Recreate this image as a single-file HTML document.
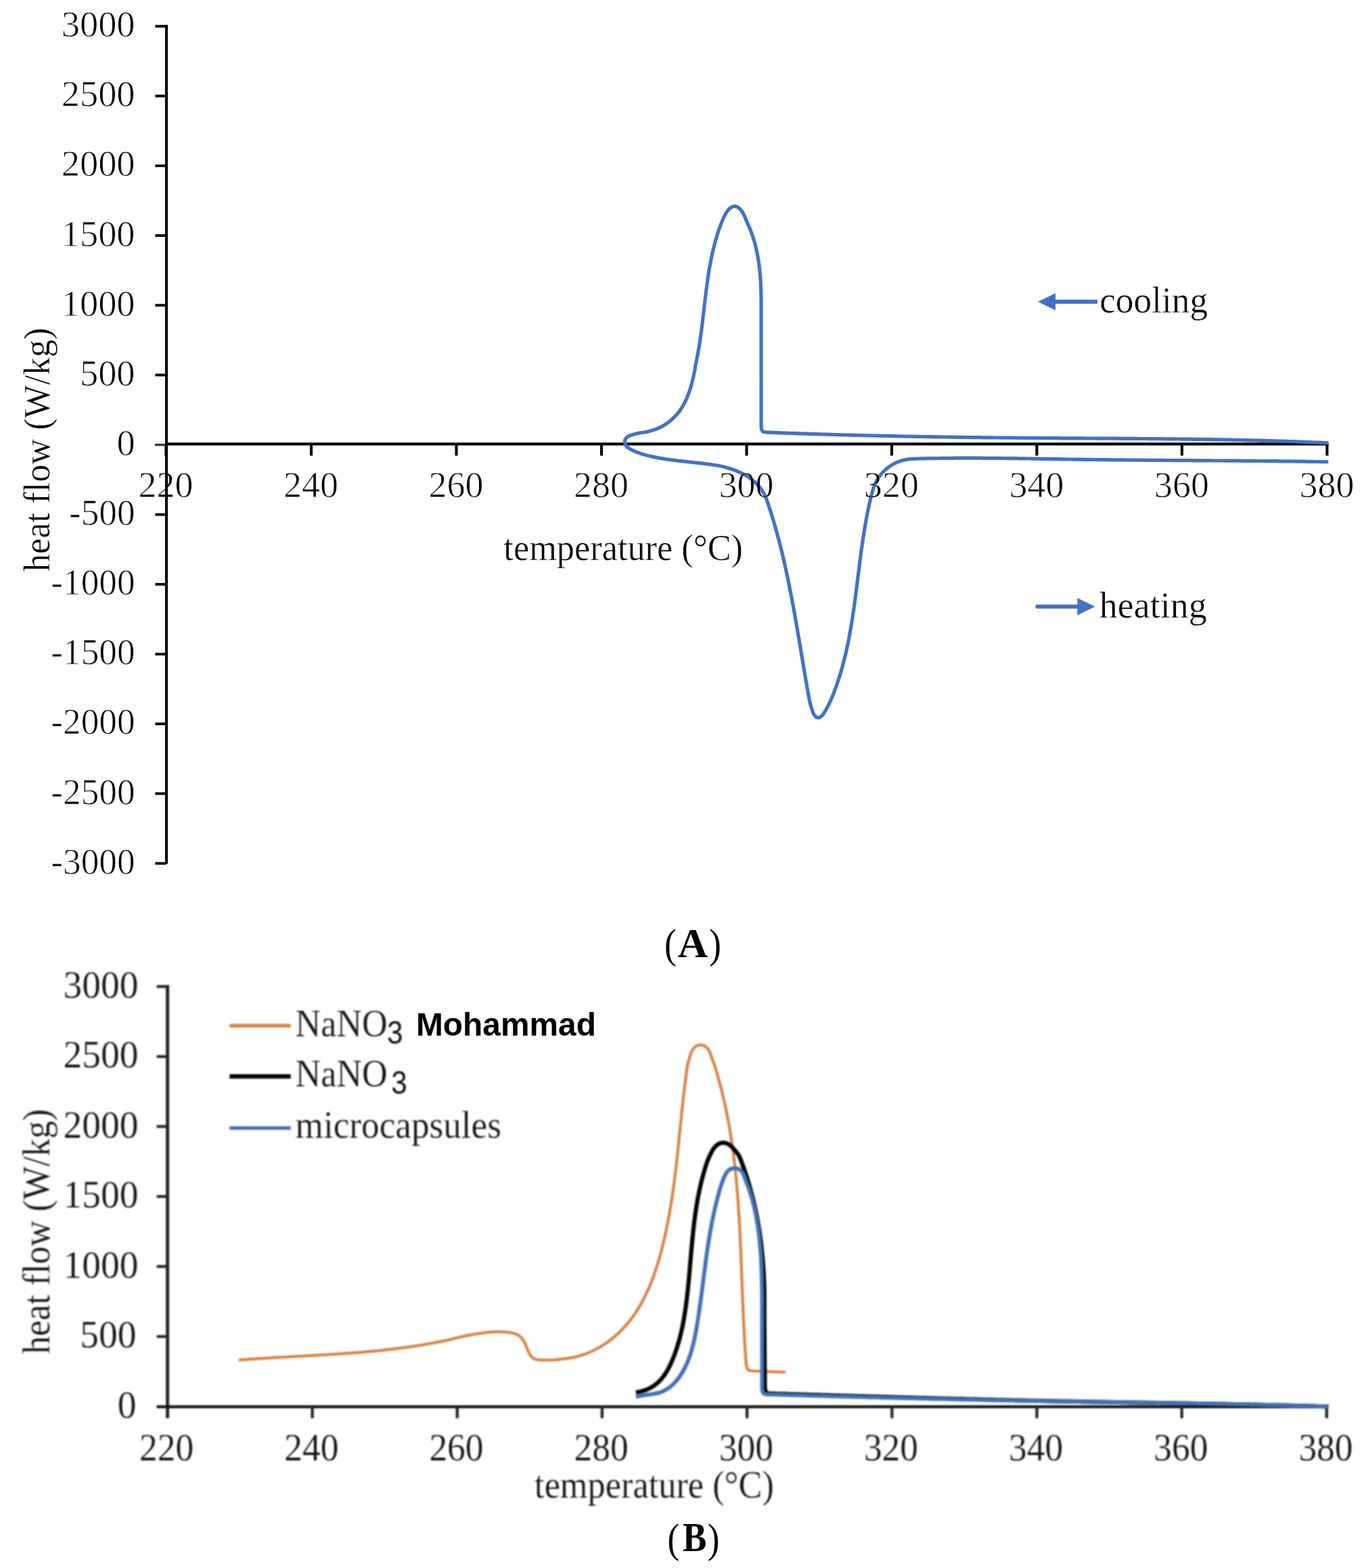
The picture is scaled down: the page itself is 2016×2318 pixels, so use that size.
<!DOCTYPE html>
<html lang="en"><head><meta charset="utf-8"><title>DSC heat flow curves</title>
<style>
html,body{margin:0;padding:0;background:#fff;}
body{width:2016px;height:2318px;overflow:hidden;}
svg{display:block;}
text{font-family:"Liberation Serif","DejaVu Serif",serif;fill:#000;}
.t{font-size:55.5px;stroke:#fff;stroke-width:0.9px;mix-blend-mode:darken;}
.tl{stroke-width:0.5px;}
.u{font-size:56.0px;fill:#161616;stroke:#fff;stroke-width:0.25px;mix-blend-mode:darken;}
.cap{font-size:61.0px;}
.cap .b{font-weight:bold;font-size:61.6px;}
.sans{font-family:"Liberation Sans","DejaVu Sans",sans-serif;}
</style></head><body>
<svg width="2016" height="2318" viewBox="0 0 2016 2318">
<rect width="2016" height="2318" fill="#fff"/>
<g id="chartA" style="filter:blur(0.45px)">
<rect x="0" y="0" width="2016" height="1340" fill="#fff"/>
<g stroke="#000" stroke-width="4.1" fill="none">
<line x1="246.0" y1="36.8" x2="246.0" y2="1277.0"/>
<line x1="246.0" y1="656.4" x2="1963.5" y2="656.4"/>
<line x1="229.4" y1="38.8" x2="246.0" y2="38.8" stroke-width="3.9"/>
<line x1="229.4" y1="141.9" x2="246.0" y2="141.9" stroke-width="3.9"/>
<line x1="229.4" y1="245.1" x2="246.0" y2="245.1" stroke-width="3.9"/>
<line x1="229.4" y1="348.2" x2="246.0" y2="348.2" stroke-width="3.9"/>
<line x1="229.4" y1="451.3" x2="246.0" y2="451.3" stroke-width="3.9"/>
<line x1="229.4" y1="554.4" x2="246.0" y2="554.4" stroke-width="3.9"/>
<line x1="229.0" y1="657.6" x2="246.0" y2="657.6" stroke="#3a3a3a" stroke-width="3.4"/>
<line x1="229.4" y1="760.7" x2="246.0" y2="760.7" stroke-width="3.9"/>
<line x1="229.4" y1="863.8" x2="246.0" y2="863.8" stroke-width="3.9"/>
<line x1="229.4" y1="967.0" x2="246.0" y2="967.0" stroke-width="3.9"/>
<line x1="229.4" y1="1070.1" x2="246.0" y2="1070.1" stroke-width="3.9"/>
<line x1="229.4" y1="1173.2" x2="246.0" y2="1173.2" stroke-width="3.9"/>
<line x1="229.4" y1="1276.4" x2="246.0" y2="1276.4" stroke-width="3.9"/>
<line x1="245.5" y1="656.4" x2="245.5" y2="673.6"/>
<line x1="460.0" y1="656.4" x2="460.0" y2="673.6"/>
<line x1="674.5" y1="656.4" x2="674.5" y2="673.6"/>
<line x1="889.0" y1="656.4" x2="889.0" y2="673.6"/>
<line x1="1103.5" y1="656.4" x2="1103.5" y2="673.6"/>
<line x1="1318.0" y1="656.4" x2="1318.0" y2="673.6"/>
<line x1="1532.4" y1="656.4" x2="1532.4" y2="673.6"/>
<line x1="1746.9" y1="656.4" x2="1746.9" y2="673.6"/>
<line x1="1961.4" y1="656.4" x2="1961.4" y2="673.6"/>
</g>
<path d="M1963.3 682.8L1960.8 682.7L1958.3 682.7L1955.8 682.6L1953.3 682.6L1950.8 682.6L1948.3 682.5L1945.8 682.5L1943.3 682.5L1940.8 682.4L1938.3 682.4L1935.8 682.3L1933.3 682.3L1930.8 682.3L1928.3 682.2L1925.8 682.2L1923.3 682.2L1920.8 682.1L1918.3 682.1L1915.8 682.1L1913.3 682L1910.8 682L1908.3 682L1905.8 681.9L1903.3 681.9L1900.8 681.9L1898.3 681.9L1895.8 681.8L1893.3 681.8L1890.8 681.8L1888.3 681.7L1885.8 681.7L1883.3 681.7L1880.8 681.7L1878.3 681.6L1875.8 681.6L1873.3 681.6L1870.8 681.6L1868.3 681.5L1865.8 681.5L1863.3 681.5L1860.8 681.5L1858.3 681.5L1855.8 681.4L1853.3 681.4L1850.8 681.4L1848.3 681.4L1845.8 681.3L1843.3 681.3L1840.8 681.3L1838.3 681.3L1835.8 681.3L1833.3 681.2L1830.8 681.2L1828.3 681.2L1825.8 681.2L1823.3 681.2L1820.8 681.1L1818.3 681.1L1815.8 681.1L1813.3 681.1L1810.8 681.1L1808.3 681.1L1805.8 681L1803.3 681L1800.8 681L1798.3 681L1795.8 681L1793.3 681L1790.8 680.9L1788.3 680.9L1785.8 680.9L1783.3 680.9L1780.8 680.9L1778.3 680.9L1775.8 680.8L1773.3 680.8L1770.8 680.8L1768.3 680.8L1765.8 680.8L1763.3 680.8L1760.8 680.7L1758.3 680.7L1755.8 680.7L1753.3 680.7L1750.8 680.7L1748.3 680.7L1745.8 680.6L1743.3 680.6L1740.8 680.6L1738.3 680.6L1735.8 680.6L1733.3 680.6L1730.8 680.5L1728.3 680.5L1725.8 680.5L1723.3 680.5L1720.8 680.5L1718.3 680.4L1715.8 680.4L1713.3 680.4L1710.8 680.4L1708.3 680.4L1705.8 680.4L1703.3 680.3L1700.8 680.3L1698.3 680.3L1695.8 680.3L1693.3 680.3L1690.8 680.2L1688.3 680.2L1685.8 680.2L1683.3 680.2L1680.8 680.2L1678.3 680.1L1675.8 680.1L1673.3 680.1L1670.8 680.1L1668.3 680L1665.8 680L1663.3 680L1660.8 680L1658.3 679.9L1655.8 679.9L1653.3 679.9L1650.8 679.9L1648.3 679.8L1645.8 679.8L1643.3 679.8L1640.8 679.8L1638.3 679.7L1635.8 679.7L1633.3 679.7L1630.8 679.7L1628.3 679.6L1625.8 679.6L1623.3 679.6L1620.8 679.5L1618.3 679.5L1615.8 679.5L1613.3 679.4L1610.8 679.4L1608.3 679.4L1605.8 679.3L1603.3 679.3L1600.8 679.3L1598.3 679.2L1595.8 679.2L1593.3 679.2L1590.8 679.1L1588.3 679.1L1585.8 679L1583.3 679L1580.8 679L1578.3 678.9L1575.8 678.9L1573.3 678.8L1570.8 678.8L1568.3 678.8L1565.8 678.7L1563.3 678.7L1560.8 678.6L1558.3 678.6L1555.8 678.6L1553.3 678.5L1550.8 678.5L1548.3 678.4L1545.8 678.4L1543.3 678.4L1540.8 678.3L1538.3 678.3L1535.8 678.2L1533.3 678.2L1530.8 678.2L1528.3 678.1L1525.8 678.1L1523.3 678L1520.8 678L1518.3 678L1515.8 677.9L1513.3 677.9L1510.8 677.9L1508.3 677.8L1505.8 677.8L1503.3 677.7L1500.8 677.7L1498.3 677.7L1495.8 677.6L1493.3 677.6L1490.8 677.6L1488.3 677.6L1485.8 677.5L1483.3 677.5L1480.8 677.5L1478.3 677.4L1475.8 677.4L1473.3 677.4L1470.8 677.4L1468.3 677.4L1465.8 677.3L1463.3 677.3L1460.8 677.3L1458.3 677.3L1455.8 677.3L1453.3 677.3L1450.8 677.2L1448.3 677.2L1445.8 677.2L1443.3 677.2L1440.8 677.2L1438.3 677.2L1435.8 677.2L1433.3 677.2L1430.8 677.2L1428.3 677.2L1425.8 677.2L1423.3 677.2L1420.8 677.2L1418.3 677.2L1415.8 677.2L1413.3 677.2L1410.8 677.2L1408.3 677.3L1405.8 677.3L1403.3 677.3L1400.8 677.3L1398.3 677.3L1395.8 677.4L1393.3 677.4L1390.8 677.4L1388.3 677.5L1385.8 677.5L1383.3 677.5L1380.8 677.6L1378.3 677.6L1375.8 677.6L1373.3 677.7L1370.8 677.7L1368.3 677.8L1365.8 677.8L1363.3 677.9L1360.8 677.9L1358.3 678L1355.8 678.1L1353.3 678.2L1350.8 678.3L1348.3 678.4L1345.8 678.5L1343.3 678.8L1340.8 679.1L1338.4 679.5L1335.9 680.1L1333.5 680.7L1331.1 681.4L1328.8 682.2L1326.4 683.2L1324.2 684.2L1321.9 685.3L1319.7 686.5L1317.6 687.7L1315.5 689.1L1313.4 690.5L1311.4 692L1309.5 693.6L1307.7 695.3L1305.9 697L1304.1 698.8L1302.5 700.7L1300.9 702.7L1299.4 704.7L1298 706.7L1296.7 708.8L1295.5 711L1294.3 713.2L1293.3 715.5L1292.3 717.8L1291.4 720.1L1290.7 722.5L1289.9 724.9L1289.2 727.3L1288.6 729.7L1287.9 732.1L1287.3 734.5L1286.8 737L1286.2 739.4L1285.6 741.8L1285.1 744.3L1284.5 746.7L1284 749.2L1283.5 751.6L1283 754.1L1282.5 756.5L1282 759L1281.5 761.4L1281 763.9L1280.6 766.3L1280.1 768.8L1279.7 771.2L1279.2 773.7L1278.8 776.2L1278.4 778.6L1278 781.1L1277.6 783.6L1277.2 786L1276.8 788.5L1276.4 791L1276 793.4L1275.6 795.9L1275.3 798.4L1274.9 800.9L1274.5 803.3L1274.2 805.8L1273.8 808.3L1273.5 810.8L1273.1 813.2L1272.8 815.7L1272.5 818.2L1272.1 820.7L1271.8 823.2L1271.5 825.6L1271.2 828.1L1270.8 830.6L1270.5 833.1L1270.2 835.6L1269.9 838L1269.6 840.5L1269.3 843L1269 845.5L1268.7 848L1268.4 850.4L1268 852.9L1267.7 855.4L1267.4 857.9L1267.1 860.4L1266.8 862.8L1266.5 865.3L1266.2 867.8L1265.9 870.3L1265.6 872.8L1265.2 875.2L1264.9 877.7L1264.6 880.2L1264.3 882.7L1263.9 885.2L1263.6 887.6L1263.3 890.1L1262.9 892.6L1262.6 895.1L1262.3 897.6L1261.9 900L1261.5 902.5L1261.2 905L1260.8 907.5L1260.4 909.9L1260.1 912.4L1259.7 914.9L1259.3 917.3L1258.9 919.8L1258.5 922.3L1258.1 924.7L1257.7 927.2L1257.3 929.7L1256.8 932.1L1256.4 934.6L1255.9 937.1L1255.5 939.5L1255 942L1254.6 944.4L1254.1 946.9L1253.6 949.3L1253.1 951.8L1252.6 954.2L1252 956.7L1251.5 959.1L1251 961.6L1250.4 964L1249.9 966.4L1249.3 968.9L1248.7 971.3L1248.1 973.7L1247.5 976.1L1246.9 978.6L1246.2 981L1245.6 983.4L1244.9 985.8L1244.3 988.2L1243.6 990.6L1242.9 993L1242.2 995.4L1241.4 997.8L1240.7 1000.2L1239.9 1002.6L1239.2 1005L1238.4 1007.3L1237.6 1009.7L1236.8 1012.1L1235.9 1014.4L1235.1 1016.8L1234.2 1019.1L1233.4 1021.5L1232.5 1023.8L1231.6 1026.1L1230.6 1028.5L1229.7 1030.8L1228.7 1033.1L1227.8 1035.4L1226.7 1037.7L1225.7 1039.9L1224.6 1042.2L1223.5 1044.4L1222.3 1046.6L1221.1 1048.8L1219.8 1051L1218.5 1053.1L1217.2 1055.2L1215.6 1057.2L1213.9 1058.9L1212 1060.3L1209.8 1060.9L1207.7 1060.7L1205.7 1059.6L1204.1 1057.9L1202.8 1055.9L1201.7 1053.6L1200.9 1051.3L1200.1 1048.9L1199.4 1046.5L1198.6 1044.1L1197.9 1041.7L1197.2 1039.3L1196.7 1036.9L1196.2 1034.5L1195.8 1032L1195.3 1029.5L1194.9 1027.1L1194.4 1024.6L1194 1022.2L1193.6 1019.7L1193.1 1017.2L1192.7 1014.8L1192.3 1012.3L1191.8 1009.8L1191.4 1007.4L1191 1004.9L1190.6 1002.5L1190.1 1000L1189.7 997.5L1189.3 995.1L1188.9 992.6L1188.5 990.1L1188 987.7L1187.6 985.2L1187.2 982.7L1186.8 980.3L1186.4 977.8L1186 975.3L1185.6 972.9L1185.1 970.4L1184.7 967.9L1184.3 965.5L1183.9 963L1183.5 960.5L1183.1 958.1L1182.7 955.6L1182.2 953.1L1181.8 950.7L1181.4 948.2L1181 945.7L1180.6 943.3L1180.2 940.8L1179.7 938.3L1179.3 935.9L1178.9 933.4L1178.5 931L1178.1 928.5L1177.6 926L1177.2 923.6L1176.8 921.1L1176.3 918.6L1175.9 916.2L1175.5 913.7L1175 911.2L1174.6 908.8L1174.2 906.3L1173.7 903.9L1173.3 901.4L1172.8 898.9L1172.4 896.5L1171.9 894L1171.5 891.6L1171 889.1L1170.6 886.7L1170.1 884.2L1169.6 881.7L1169.2 879.3L1168.7 876.8L1168.2 874.4L1167.7 871.9L1167.2 869.5L1166.8 867L1166.3 864.6L1165.8 862.1L1165.3 859.7L1164.8 857.2L1164.3 854.8L1163.7 852.3L1163.2 849.9L1162.7 847.4L1162.2 845L1161.7 842.5L1161.1 840.1L1160.6 837.7L1160 835.2L1159.5 832.8L1158.9 830.3L1158.4 827.9L1157.8 825.5L1157.2 823L1156.7 820.6L1156.1 818.2L1155.5 815.7L1154.9 813.3L1154.3 810.9L1153.7 808.4L1153.1 806L1152.5 803.6L1151.9 801.2L1151.2 798.8L1150.6 796.3L1149.9 793.9L1149.3 791.5L1148.6 789.1L1148 786.7L1147.3 784.3L1146.6 781.9L1146 779.5L1145.3 777.1L1144.6 774.7L1143.9 772.3L1143.2 769.9L1142.4 767.5L1141.7 765.1L1141 762.7L1140.3 760.3L1139.5 757.9L1138.8 755.5L1138 753.1L1137.2 750.8L1136.4 748.4L1135.7 746L1134.9 743.6L1134 741.3L1133.2 738.9L1132.3 736.6L1131.4 734.3L1130.3 732L1129.2 729.8L1127.9 727.6L1126.6 725.5L1125.2 723.4L1123.7 721.4L1122.2 719.5L1120.6 717.6L1118.8 715.8L1117.1 714L1115.2 712.3L1113.4 710.7L1111.4 709.1L1109.4 707.6L1107.4 706.1L1105.3 704.7L1103.2 703.4L1101 702.1L1098.9 700.9L1096.6 699.8L1094.4 698.7L1092.1 697.6L1089.8 696.6L1087.5 695.7L1085.2 694.8L1082.8 694L1080.5 693.2L1078.1 692.4L1075.7 691.7L1073.3 691L1070.8 690.4L1068.4 689.8L1066 689.3L1063.5 688.8L1061.1 688.3L1058.6 687.9L1056.1 687.5L1053.7 687.1L1051.2 686.8L1048.7 686.4L1046.2 686.1L1043.8 685.8L1041.3 685.5L1038.8 685.2L1036.3 684.9L1033.8 684.6L1031.3 684.3L1028.9 684L1026.4 683.8L1023.9 683.5L1021.4 683.2L1018.9 683L1016.4 682.7L1013.9 682.4L1011.5 682.2L1009 681.9L1006.5 681.6L1004 681.3L1001.5 681L999 680.7L996.6 680.4L994.1 680.1L991.6 679.8L989.1 679.4L986.6 679.1L984.2 678.7L981.7 678.3L979.2 677.9L976.8 677.5L974.3 677.1L971.8 676.6L969.4 676.1L966.9 675.6L964.5 675.1L962.1 674.6L959.6 674L957.2 673.4L954.8 672.8L952.4 672.2L950 671.5L947.6 670.7L945.2 669.9L942.9 669L940.5 668.1L938.2 667.2L935.9 666.1L933.7 665.1L931.5 663.9L929.4 662.6L927.4 661.1L925.7 659.3L924.3 657.4L923.5 655.1L923.4 652.8L923.8 650.5L924.9 648.3L926.5 646.6L928.4 645.1L930.6 644L933 643.2L935.4 642.5L937.8 641.8L940.2 641.2L942.6 640.6L945 640.1L947.5 639.7L950 639.3L952.4 639L954.9 638.5L957.3 638.1L959.8 637.5L962.2 636.8L964.6 636.1L967 635.3L969.3 634.5L971.6 633.5L973.9 632.5L976.2 631.4L978.4 630.3L980.6 629.1L982.7 627.8L984.8 626.4L986.8 625L988.8 623.5L990.8 621.9L992.7 620.3L994.6 618.6L996.3 616.9L998.1 615.1L999.8 613.3L1001.4 611.4L1003 609.4L1004.5 607.4L1005.9 605.4L1007.3 603.3L1008.6 601.2L1009.9 599L1011.1 596.8L1012.2 594.6L1013.3 592.4L1014.4 590.1L1015.4 587.8L1016.3 585.5L1017.2 583.2L1018.1 580.8L1018.9 578.5L1019.7 576.1L1020.5 573.7L1021.2 571.3L1021.9 568.9L1022.5 566.5L1023.1 564.1L1023.7 561.7L1024.3 559.2L1024.9 556.8L1025.4 554.3L1025.9 551.9L1026.4 549.4L1026.8 547L1027.3 544.5L1027.7 542L1028.1 539.6L1028.6 537.1L1029.1 534.7L1029.6 532.2L1030 529.8L1030.5 527.3L1031 524.9L1031.5 522.4L1031.9 519.9L1032.3 517.5L1032.8 515L1033.2 512.6L1033.6 510.1L1034 507.6L1034.4 505.1L1034.7 502.7L1035.1 500.2L1035.4 497.7L1035.8 495.2L1036.1 492.8L1036.5 490.3L1036.8 487.8L1037.1 485.3L1037.4 482.9L1037.7 480.4L1038 477.9L1038.4 475.4L1038.6 472.9L1038.9 470.4L1039.2 468L1039.5 465.5L1039.8 463L1040.1 460.5L1040.4 458L1040.7 455.5L1041 453.1L1041.2 450.6L1041.5 448.1L1041.8 445.6L1042.1 443.1L1042.4 440.6L1042.7 438.2L1043 435.7L1043.3 433.2L1043.6 430.7L1043.9 428.2L1044.2 425.8L1044.6 423.3L1044.9 420.8L1045.2 418.3L1045.6 415.8L1045.9 413.4L1046.3 410.9L1046.7 408.4L1047 405.9L1047.4 403.5L1047.8 401L1048.2 398.5L1048.6 396.1L1049.1 393.6L1049.5 391.2L1050 388.7L1050.4 386.2L1050.9 383.8L1051.4 381.3L1051.9 378.9L1052.4 376.4L1053 374L1053.5 371.6L1054.1 369.1L1054.7 366.7L1055.3 364.3L1055.9 361.8L1056.5 359.4L1057.2 357L1057.9 354.6L1058.6 352.2L1059.3 349.8L1060 347.4L1060.8 345L1061.5 342.7L1062.3 340.3L1063.2 337.9L1064 335.6L1064.9 333.2L1065.8 330.9L1066.7 328.6L1067.6 326.3L1068.6 324L1069.6 321.7L1070.6 319.4L1071.8 317.2L1073 315L1074.4 312.9L1075.9 311L1077.6 309.1L1079.4 307.5L1081.4 306.1L1083.6 305.2L1086 304.9L1088.3 305.3L1090.4 306.3L1092.4 307.7L1094.2 309.5L1095.8 311.3L1097.2 313.4L1098.5 315.5L1099.7 317.7L1100.7 320L1101.6 322.3L1102.6 324.6L1103.5 327L1104.5 329.3L1105.5 331.6L1106.5 333.8L1107.5 336.1L1108.5 338.4L1109.4 340.8L1110.3 343.1L1111.1 345.4L1112 347.8L1112.8 350.2L1113.5 352.5L1114.3 354.9L1115 357.3L1115.6 359.7L1116.3 362.2L1116.9 364.6L1117.5 367L1118 369.5L1118.6 371.9L1119.1 374.3L1119.5 376.8L1120 379.3L1120.4 381.7L1120.8 384.2L1121.2 386.7L1121.6 389.1L1121.9 391.6L1122.2 394.1L1122.5 396.6L1122.8 399.1L1123 401.6L1123.3 404L1123.5 406.5L1123.7 409L1123.9 411.5L1124 414L1124.2 416.5L1124.3 419L1124.4 421.5L1124.5 424L1124.6 426.5L1124.7 429L1124.8 431.5L1124.8 434L1124.9 436.5L1124.9 439L1125 441.5L1125 444L1125 446.5L1125 449L1125 451.5L1125 454L1125 456.5L1125 459L1125 460L1125.1 630.5L1125.5 634.5L1126.9 637.3L1129.7 638.7L1134 639.2L1136.5 639.2L1139 639.3L1141.5 639.4L1144 639.5L1146.5 639.6L1149 639.7L1151.5 639.8L1154 639.9L1156.5 640L1159 640.1L1161.5 640.2L1164 640.3L1166.5 640.4L1169 640.5L1171.5 640.5L1174 640.6L1176.5 640.7L1179 640.8L1181.5 640.9L1184 641L1186.5 641.1L1189 641.1L1191.5 641.2L1194 641.3L1196.5 641.4L1199 641.5L1201.5 641.6L1204 641.6L1206.5 641.7L1209 641.8L1211.5 641.9L1214 641.9L1216.5 642L1219 642.1L1221.5 642.2L1224 642.2L1226.5 642.3L1229 642.4L1231.5 642.5L1234 642.5L1236.5 642.6L1239 642.7L1241.5 642.8L1244 642.8L1246.5 642.9L1249 643L1251.5 643L1254 643.1L1256.5 643.2L1259 643.2L1261.5 643.3L1264 643.4L1266.5 643.4L1269 643.5L1271.5 643.6L1274 643.6L1276.5 643.7L1279 643.7L1281.5 643.8L1284 643.9L1286.5 643.9L1289 644L1291.5 644L1294 644.1L1296.5 644.2L1299 644.2L1301.5 644.3L1304 644.3L1306.5 644.4L1309 644.4L1311.5 644.5L1314 644.5L1316.5 644.6L1319 644.6L1321.5 644.7L1324 644.8L1326.5 644.8L1329 644.9L1331.5 644.9L1334 645L1336.5 645L1339 645.1L1341.5 645.1L1344 645.1L1346.5 645.2L1349 645.2L1351.5 645.3L1354 645.3L1356.5 645.4L1359 645.4L1361.5 645.5L1364 645.5L1366.5 645.6L1369 645.6L1371.6 645.6L1374.1 645.7L1376.6 645.7L1379.1 645.8L1381.6 645.8L1384.1 645.8L1386.6 645.9L1389.1 645.9L1391.6 646L1394.1 646L1396.6 646L1399.1 646.1L1401.6 646.1L1404.1 646.1L1406.6 646.2L1409.1 646.2L1411.6 646.3L1414.1 646.3L1416.6 646.3L1419.1 646.4L1421.6 646.4L1424.1 646.4L1426.6 646.5L1429.1 646.5L1431.6 646.5L1434.1 646.6L1436.6 646.6L1439.1 646.6L1441.6 646.6L1444.1 646.7L1446.6 646.7L1449.1 646.7L1451.6 646.8L1454.1 646.8L1456.6 646.8L1459.1 646.9L1461.6 646.9L1464.1 646.9L1466.6 646.9L1469.1 647L1471.6 647L1474.1 647L1476.6 647L1479.1 647.1L1481.6 647.1L1484.1 647.1L1486.6 647.1L1489.1 647.2L1491.6 647.2L1494.1 647.2L1496.6 647.2L1499.1 647.2L1501.6 647.3L1504.1 647.3L1506.6 647.3L1509.1 647.3L1511.6 647.4L1514.1 647.4L1516.6 647.4L1519.1 647.4L1521.6 647.4L1524.1 647.5L1526.6 647.5L1529.1 647.5L1531.6 647.5L1534.1 647.5L1536.6 647.5L1539.1 647.6L1541.6 647.6L1544.1 647.6L1546.6 647.6L1549.1 647.6L1551.6 647.6L1554.1 647.7L1556.6 647.7L1559.2 647.7L1561.7 647.7L1564.2 647.7L1566.7 647.7L1569.2 647.8L1571.7 647.8L1574.2 647.8L1576.7 647.8L1579.2 647.8L1581.7 647.8L1584.2 647.8L1586.7 647.9L1589.2 647.9L1591.7 647.9L1594.2 647.9L1596.7 647.9L1599.2 647.9L1601.7 647.9L1604.2 648L1606.7 648L1609.2 648L1611.7 648L1614.2 648L1616.7 648L1619.2 648L1621.7 648.1L1624.2 648.1L1626.7 648.1L1629.2 648.1L1631.7 648.1L1634.2 648.1L1636.7 648.1L1639.2 648.2L1641.7 648.2L1644.2 648.2L1646.7 648.2L1649.2 648.2L1651.7 648.2L1654.2 648.3L1656.7 648.3L1659.2 648.3L1661.7 648.3L1664.2 648.3L1666.7 648.3L1669.2 648.4L1671.7 648.4L1674.2 648.4L1676.7 648.4L1679.2 648.4L1681.7 648.4L1684.2 648.5L1686.7 648.5L1689.2 648.5L1691.7 648.5L1694.2 648.5L1696.7 648.6L1699.2 648.6L1701.7 648.6L1704.2 648.6L1706.7 648.7L1709.2 648.7L1711.7 648.7L1714.2 648.7L1716.7 648.7L1719.2 648.8L1721.7 648.8L1724.2 648.8L1726.7 648.8L1729.2 648.9L1731.8 648.9L1734.3 648.9L1736.8 649L1739.3 649L1741.8 649L1744.3 649L1746.8 649.1L1749.3 649.1L1751.8 649.1L1754.3 649.2L1756.8 649.2L1759.3 649.2L1761.8 649.3L1764.3 649.3L1766.8 649.3L1769.3 649.4L1771.8 649.4L1774.3 649.4L1776.8 649.5L1779.3 649.5L1781.8 649.6L1784.3 649.6L1786.8 649.6L1789.3 649.7L1791.8 649.7L1794.3 649.8L1796.8 649.8L1799.3 649.8L1801.8 649.9L1804.3 649.9L1806.8 650L1809.3 650L1811.8 650.1L1814.3 650.1L1816.8 650.2L1819.3 650.2L1821.8 650.3L1824.3 650.3L1826.8 650.4L1829.3 650.4L1831.8 650.5L1834.3 650.5L1836.8 650.6L1839.3 650.6L1841.8 650.7L1844.3 650.8L1846.8 650.8L1849.3 650.9L1851.8 650.9L1854.3 651L1856.8 651.1L1859.3 651.1L1861.8 651.2L1864.3 651.3L1866.8 651.3L1869.3 651.4L1871.8 651.5L1874.3 651.5L1876.8 651.6L1879.3 651.7L1881.8 651.8L1884.3 651.8L1886.8 651.9L1889.3 652L1891.8 652.1L1894.3 652.1L1896.8 652.2L1899.3 652.3L1901.8 652.4L1904.3 652.5L1906.8 652.6L1909.3 652.6L1911.8 652.7L1914.3 652.8L1916.8 652.9L1919.3 653L1921.8 653.1L1924.3 653.2L1926.8 653.3L1929.3 653.4L1931.8 653.5L1934.3 653.6L1936.8 653.7L1939.3 653.8L1941.8 653.9L1944.3 654L1946.8 654.1L1949.3 654.2L1951.8 654.3L1954.3 654.4L1956.8 654.5L1959.3 654.6L1961.8 654.7L1963.3 654.8" fill="none" stroke="#4472c4" stroke-width="5.2" stroke-linejoin="round" stroke-linecap="butt"/>
<text id="ay0" class="t" x="199.6" y="54.1" text-anchor="end" textLength="108.89" lengthAdjust="spacingAndGlyphs">3000</text>
<text id="ay1" class="t" x="199.6" y="157.2" text-anchor="end" textLength="108.89" lengthAdjust="spacingAndGlyphs">2500</text>
<text id="ay2" class="t" x="199.6" y="260.4" text-anchor="end" textLength="108.89" lengthAdjust="spacingAndGlyphs">2000</text>
<text id="ay3" class="t" x="199.6" y="363.5" text-anchor="end" textLength="108.89" lengthAdjust="spacingAndGlyphs">1500</text>
<text id="ay4" class="t" x="199.6" y="466.6" text-anchor="end" textLength="108.89" lengthAdjust="spacingAndGlyphs">1000</text>
<text id="ay5" class="t" x="199.6" y="569.7" text-anchor="end" textLength="81.67" lengthAdjust="spacingAndGlyphs">500</text>
<text id="ay6" class="t" x="199.6" y="672.9" text-anchor="end" textLength="27.22" lengthAdjust="spacingAndGlyphs">0</text>
<text id="ay7" class="t" x="199.6" y="776.0" text-anchor="end" textLength="97.61" lengthAdjust="spacingAndGlyphs">-500</text>
<text id="ay8" class="t" x="199.6" y="879.1" text-anchor="end" textLength="124.23" lengthAdjust="spacingAndGlyphs">-1000</text>
<text id="ay9" class="t" x="199.6" y="982.3" text-anchor="end" textLength="124.23" lengthAdjust="spacingAndGlyphs">-1500</text>
<text id="ay10" class="t" x="199.6" y="1085.4" text-anchor="end" textLength="124.23" lengthAdjust="spacingAndGlyphs">-2000</text>
<text id="ay11" class="t" x="199.6" y="1188.5" text-anchor="end" textLength="124.23" lengthAdjust="spacingAndGlyphs">-2500</text>
<text id="ay12" class="t" x="199.6" y="1291.7" text-anchor="end" textLength="124.23" lengthAdjust="spacingAndGlyphs">-3000</text>
<text id="ax0" class="t" x="245.0" y="734.8" text-anchor="middle" textLength="80.92" lengthAdjust="spacingAndGlyphs">220</text>
<text id="ax1" class="t" x="459.5" y="734.8" text-anchor="middle" textLength="80.92" lengthAdjust="spacingAndGlyphs">240</text>
<text id="ax2" class="t" x="674.0" y="734.8" text-anchor="middle" textLength="80.92" lengthAdjust="spacingAndGlyphs">260</text>
<text id="ax3" class="t" x="888.5" y="734.8" text-anchor="middle" textLength="80.92" lengthAdjust="spacingAndGlyphs">280</text>
<text id="ax4" class="t" x="1103.0" y="734.8" text-anchor="middle" textLength="80.92" lengthAdjust="spacingAndGlyphs">300</text>
<text id="ax5" class="t" x="1317.5" y="734.8" text-anchor="middle" textLength="80.92" lengthAdjust="spacingAndGlyphs">320</text>
<text id="ax6" class="t" x="1531.9" y="734.8" text-anchor="middle" textLength="80.92" lengthAdjust="spacingAndGlyphs">340</text>
<text id="ax7" class="t" x="1746.4" y="734.8" text-anchor="middle" textLength="80.92" lengthAdjust="spacingAndGlyphs">360</text>
<text id="ax8" class="t" x="1960.9" y="734.8" text-anchor="middle" textLength="80.92" lengthAdjust="spacingAndGlyphs">380</text>
<text id="axt" class="t tl" x="921.2" y="828.1" text-anchor="middle" textLength="353.68" lengthAdjust="spacingAndGlyphs">temperature (°C)</text>
<text id="ayt" class="t tl" transform="translate(73.4 664.9) rotate(-90)" text-anchor="middle" textLength="360.40" lengthAdjust="spacingAndGlyphs">heat flow (W/kg)</text>
<g fill="#4472c4" stroke="none">
<path d="M1534 446.1L1560 433.4V443.1H1622V449.1H1560V458.8Z"/>
<path d="M1618.4 896.7L1592.4 884V893.7H1533.4A3 3 0 0 0 1533.4 899.7H1592.4V909.4Z"/>
</g>
<text id="cool" class="t tl" x="1625.2" y="461.8" textLength="159.99" lengthAdjust="spacingAndGlyphs">cooling</text>
<text id="heat" class="t tl" x="1624.7" y="912.5" textLength="158.95" lengthAdjust="spacingAndGlyphs">heating</text>
</g>
<g id="chartB" style="filter:blur(0.90px)">
<rect x="0" y="1425" width="2016" height="810" fill="#fff"/>
<g stroke="#262626" fill="none">
<line x1="247.6" y1="1456.2" x2="247.6" y2="2096.6" stroke-width="5"/>
<line x1="231.6" y1="2079.6" x2="1963.0" y2="2079.6" stroke-width="4.4" stroke="#111"/>
<line x1="231.6" y1="1458.4" x2="247.6" y2="1458.4" stroke-width="4.2"/>
<line x1="231.6" y1="1561.9" x2="247.6" y2="1561.9" stroke-width="4.2"/>
<line x1="231.6" y1="1665.3" x2="247.6" y2="1665.3" stroke-width="4.2"/>
<line x1="231.6" y1="1768.8" x2="247.6" y2="1768.8" stroke-width="4.2"/>
<line x1="231.6" y1="1872.3" x2="247.6" y2="1872.3" stroke-width="4.2"/>
<line x1="231.6" y1="1975.8" x2="247.6" y2="1975.8" stroke-width="4.2"/>
<line x1="461.6" y1="2079.6" x2="461.6" y2="2096.6" stroke-width="4.4"/>
<line x1="675.8" y1="2079.6" x2="675.8" y2="2096.6" stroke-width="4.4"/>
<line x1="889.9" y1="2079.6" x2="889.9" y2="2096.6" stroke-width="4.4"/>
<line x1="1104.1" y1="2079.6" x2="1104.1" y2="2096.6" stroke-width="4.4"/>
<line x1="1318.3" y1="2079.6" x2="1318.3" y2="2096.6" stroke-width="4.4"/>
<line x1="1532.5" y1="2079.6" x2="1532.5" y2="2096.6" stroke-width="4.4"/>
<line x1="1746.7" y1="2079.6" x2="1746.7" y2="2096.6" stroke-width="4.4"/>
<line x1="1960.8" y1="2079.6" x2="1960.8" y2="2096.6" stroke-width="4.4"/>
</g>
<path d="M352.8 2010.5L355.3 2010.3L357.8 2010.1L360.3 2009.9L362.8 2009.8L365.3 2009.6L367.8 2009.4L370.3 2009.2L372.8 2009.1L375.3 2008.9L377.7 2008.7L380.2 2008.6L382.7 2008.4L385.2 2008.2L387.7 2008.1L390.2 2007.9L392.7 2007.8L395.2 2007.6L397.7 2007.5L400.2 2007.3L402.7 2007.2L405.2 2007L407.7 2006.9L410.2 2006.7L412.7 2006.6L415.2 2006.4L417.7 2006.3L420.2 2006.2L422.7 2006L425.2 2005.9L427.7 2005.7L430.2 2005.6L432.7 2005.5L435.2 2005.3L437.7 2005.2L440.2 2005.1L442.6 2004.9L445.1 2004.8L447.6 2004.6L450.1 2004.5L452.6 2004.4L455.1 2004.2L457.6 2004.1L460.1 2003.9L462.6 2003.8L465.1 2003.7L467.6 2003.5L470.1 2003.4L472.6 2003.2L475.1 2003.1L477.6 2002.9L480.1 2002.8L482.6 2002.6L485.1 2002.5L487.6 2002.3L490.1 2002.2L492.6 2002L495.1 2001.8L497.6 2001.7L500.1 2001.5L502.6 2001.3L505.1 2001.2L507.5 2001L510 2000.8L512.5 2000.6L515 2000.5L517.5 2000.3L520 2000.1L522.5 1999.9L525 1999.7L527.5 1999.5L530 1999.3L532.5 1999.1L535 1998.9L537.5 1998.7L540 1998.5L542.4 1998.2L544.9 1998L547.4 1997.8L549.9 1997.6L552.4 1997.3L554.9 1997.1L557.4 1996.8L559.9 1996.6L562.4 1996.3L564.8 1996.1L567.3 1995.8L569.8 1995.5L572.3 1995.3L574.8 1995L577.3 1994.7L579.8 1994.4L582.2 1994.1L584.7 1993.8L587.2 1993.5L589.7 1993.2L592.2 1992.9L594.6 1992.5L597.1 1992.2L599.6 1991.9L602.1 1991.5L604.5 1991.2L607 1990.8L609.5 1990.4L612 1990.1L614.4 1989.7L616.9 1989.3L619.4 1988.9L621.9 1988.5L624.3 1988.1L626.8 1987.7L629.3 1987.3L631.7 1986.9L634.2 1986.4L636.6 1986L639.1 1985.5L641.6 1985.1L644 1984.6L646.5 1984.1L648.9 1983.7L651.4 1983.2L653.8 1982.7L656.3 1982.2L658.7 1981.6L661.2 1981.1L663.6 1980.6L666 1980L668.4 1979.3L670.9 1978.7L673.3 1978.1L675.7 1977.5L678.2 1977L680.6 1976.4L683 1975.9L685.5 1975.4L687.9 1974.9L690.4 1974.4L692.8 1973.9L695.3 1973.4L697.8 1973L700.2 1972.6L702.7 1972.1L705.2 1971.7L707.6 1971.4L710.1 1971L712.6 1970.7L715.1 1970.3L717.5 1970L720 1969.7L722.5 1969.5L725 1969.2L727.5 1969.1L730 1968.9L732.5 1968.8L735 1968.7L737.5 1968.7L740 1968.8L742.5 1968.9L745 1969L747.5 1969.2L750 1969.5L752.4 1969.8L754.9 1970.2L757.4 1970.6L759.8 1971.2L762.2 1972L764.5 1973L766.6 1974.3L768.6 1975.7L770.5 1977.4L772.1 1979.3L773.5 1981.4L774.8 1983.5L775.9 1985.8L776.9 1988.1L777.9 1990.4L778.9 1992.7L779.8 1995L780.7 1997.3L781.7 1999.6L782.8 2001.9L784.1 2004L785.7 2005.9L787.6 2007.5L789.7 2008.7L792.1 2009.6L794.5 2010.1L797 2010.4L799.5 2010.5L802 2010.6L804.5 2010.7L807 2010.7L809.5 2010.7L812 2010.6L814.5 2010.6L817 2010.4L819.5 2010.3L822 2010.1L824.5 2009.8L826.9 2009.5L829.4 2009.2L831.9 2008.8L834.4 2008.6L836.9 2008.3L839.3 2008L841.8 2007.6L844.3 2007.2L846.7 2006.7L849.2 2006.2L851.6 2005.6L854 2005L856.4 2004.3L858.8 2003.6L861.2 2002.9L863.6 2002L865.9 2001.2L868.3 2000.3L870.6 1999.4L872.9 1998.4L875.2 1997.3L877.4 1996.3L879.7 1995.2L881.9 1994L884.1 1992.8L886.3 1991.6L888.4 1990.3L890.5 1989L892.6 1987.7L894.7 1986.3L896.8 1984.9L898.8 1983.4L900.8 1981.9L902.8 1980.4L904.8 1978.8L906.7 1977.3L908.6 1975.6L910.5 1974L912.4 1972.3L914.2 1970.6L916 1968.9L917.8 1967.1L919.5 1965.3L921.2 1963.5L922.9 1961.7L924.6 1959.8L926.2 1957.9L927.9 1956L929.4 1954.1L931 1952.1L932.5 1950.2L934 1948.2L935.5 1946.1L937 1944.1L938.4 1942L939.8 1940L941.1 1937.9L942.5 1935.8L943.8 1933.6L945.1 1931.5L946.4 1929.3L947.6 1927.2L948.8 1925L950 1922.8L951.2 1920.6L952.3 1918.3L953.4 1916.1L954.5 1913.9L955.6 1911.6L956.6 1909.3L957.7 1907.1L958.7 1904.8L959.7 1902.5L960.6 1900.2L961.6 1897.9L962.5 1895.5L963.4 1893.2L964.3 1890.9L965.2 1888.5L966.1 1886.2L966.9 1883.8L967.7 1881.5L968.5 1879.1L969.3 1876.7L970.1 1874.3L970.9 1872L971.6 1869.6L972.3 1867.2L973.1 1864.8L973.8 1862.4L974.5 1860L975.1 1857.6L975.8 1855.2L976.5 1852.8L977.1 1850.3L977.7 1847.9L978.4 1845.5L979 1843.1L979.6 1840.7L980.2 1838.2L980.8 1835.8L981.3 1833.4L981.9 1830.9L982.5 1828.5L983 1826L983.6 1823.6L984.1 1821.2L984.6 1818.7L985.1 1816.3L985.6 1813.8L986.1 1811.4L986.6 1808.9L987.1 1806.5L987.6 1804L988 1801.6L988.5 1799.1L988.9 1796.6L989.4 1794.2L989.8 1791.7L990.2 1789.2L990.6 1786.8L991.1 1784.3L991.5 1781.8L991.9 1779.4L992.3 1776.9L992.6 1774.4L993 1772L993.4 1769.5L993.8 1767L994.1 1764.5L994.5 1762.1L994.8 1759.6L995.2 1757.1L995.5 1754.6L995.9 1752.2L996.2 1749.7L996.5 1747.2L996.8 1744.7L997.1 1742.2L997.5 1739.8L997.8 1737.3L998.1 1734.8L998.4 1732.3L998.7 1729.8L999 1727.4L999.3 1724.9L999.5 1722.4L999.8 1719.9L1000.1 1717.4L1000.4 1714.9L1000.7 1712.4L1000.9 1710L1001.2 1707.5L1001.5 1705L1001.7 1702.5L1002 1700L1002.2 1697.5L1002.5 1695L1002.8 1692.6L1003 1690.1L1003.3 1687.6L1003.5 1685.1L1003.8 1682.6L1004 1680.1L1004.3 1677.6L1004.5 1675.1L1004.8 1672.6L1005 1670.2L1005.3 1667.7L1005.5 1665.2L1005.8 1662.7L1006.1 1660.2L1006.3 1657.7L1006.6 1655.2L1006.8 1652.7L1007.1 1650.3L1007.3 1647.8L1007.6 1645.3L1007.8 1642.8L1008.1 1640.3L1008.4 1637.8L1008.6 1635.3L1008.9 1632.8L1009.2 1630.4L1009.4 1627.9L1009.7 1625.4L1010 1622.9L1010.3 1620.4L1010.5 1617.9L1010.8 1615.5L1011.1 1613L1011.4 1610.5L1011.7 1608L1012 1605.5L1012.3 1603L1012.6 1600.6L1012.9 1598.1L1013.2 1595.6L1013.5 1593.1L1013.9 1590.6L1014.2 1588.2L1014.5 1585.7L1014.9 1583.2L1015.2 1580.7L1015.6 1578.2L1015.9 1575.8L1016.3 1573.3L1017 1570.9L1017.8 1568.6L1018.4 1566.1L1019.1 1563.7L1019.7 1561.3L1020.5 1558.9L1021.3 1556.6L1022.3 1554.3L1023.5 1552.1L1025 1550.1L1026.7 1548.3L1028.7 1546.8L1030.9 1545.6L1033.3 1544.9L1035.7 1544.7L1038.2 1545L1040.5 1545.9L1042.7 1547.2L1044.6 1548.8L1046.3 1550.6L1047.6 1552.7L1048.8 1554.9L1049.8 1557.2L1050.6 1559.5L1051.4 1561.9L1052.2 1564.3L1053 1566.7L1053.9 1569L1054.9 1571.3L1055.7 1573.6L1056.5 1576L1057.2 1578.4L1057.9 1580.8L1058.7 1583.2L1059.4 1585.6L1060.1 1588L1060.8 1590.4L1061.5 1592.8L1062.1 1595.2L1062.8 1597.6L1063.5 1600L1064.1 1602.4L1064.7 1604.8L1065.4 1607.3L1066 1609.7L1066.6 1612.1L1067.2 1614.5L1067.8 1617L1068.4 1619.4L1069 1621.8L1069.5 1624.3L1070.1 1626.7L1070.6 1629.1L1071.2 1631.6L1071.7 1634L1072.2 1636.5L1072.8 1638.9L1073.3 1641.4L1073.8 1643.8L1074.3 1646.3L1074.8 1648.7L1075.2 1651.2L1075.7 1653.6L1076.2 1656.1L1076.6 1658.5L1077.1 1661L1077.5 1663.5L1077.9 1665.9L1078.4 1668.4L1078.8 1670.9L1079.2 1673.3L1079.6 1675.8L1080 1678.3L1080.4 1680.7L1080.8 1683.2L1081.1 1685.7L1081.5 1688.1L1081.9 1690.6L1082.2 1693.1L1082.6 1695.6L1082.9 1698.1L1083.2 1700.5L1083.6 1703L1083.9 1705.5L1084.2 1708L1084.5 1710.4L1084.8 1712.9L1085.1 1715.4L1085.4 1717.9L1085.7 1720.4L1086 1722.9L1086.3 1725.4L1086.5 1727.8L1086.8 1730.3L1087.1 1732.8L1087.3 1735.3L1087.6 1737.8L1087.8 1740.3L1088.1 1742.8L1088.3 1745.3L1088.5 1747.7L1088.7 1750.2L1089 1752.7L1089.2 1755.2L1089.4 1757.7L1089.6 1760.2L1089.8 1762.7L1090 1765.2L1090.2 1767.7L1090.4 1770.2L1090.6 1772.7L1090.8 1775.2L1090.9 1777.7L1091.1 1780.1L1091.3 1782.6L1091.5 1785.1L1091.6 1787.6L1091.8 1790.1L1091.9 1792.6L1092.1 1795.1L1092.3 1797.6L1092.4 1800.1L1092.5 1802.6L1092.7 1805.1L1092.8 1807.6L1093 1810.1L1093.1 1812.6L1093.2 1815.1L1093.4 1817.6L1093.5 1820.1L1093.6 1822.6L1093.7 1825.1L1093.9 1827.6L1094 1830.1L1094.1 1832.6L1094.2 1835.1L1094.3 1837.6L1094.4 1840.1L1094.5 1842.6L1094.7 1845.1L1094.8 1847.6L1094.9 1850.1L1095 1852.6L1095.1 1855.1L1095.2 1857.6L1095.3 1860.1L1095.4 1862.6L1095.5 1865L1095.6 1867.5L1095.7 1870L1095.8 1872.5L1095.9 1875L1096 1877.5L1096.1 1880L1096.1 1882.5L1096.2 1885L1096.3 1887.5L1096.4 1890L1096.5 1892.5L1096.6 1895L1096.7 1897.5L1096.8 1900L1096.9 1902.5L1097 1905L1097.1 1907.5L1097.2 1910L1097.3 1912.5L1097.4 1915L1097.5 1917.5L1097.6 1920L1097.7 1922.5L1097.8 1925L1097.9 1927.5L1098 1930L1098.1 1932.5L1098.2 1935L1098.3 1937.5L1098.4 1940L1098.5 1942.5L1098.6 1945L1098.7 1947.5L1098.8 1950L1099 1952.5L1099.1 1955L1099.2 1957.5L1099.3 1960L1099.5 1962.5L1099.6 1965L1099.7 1967.5L1099.8 1970L1100 1972.5L1100.1 1975L1100.3 1977.5L1100.4 1980L1100.6 1982.5L1100.7 1985L1100.9 1987.5L1101 1990L1101.2 1992.4L1101.3 1994.9L1101.5 1997.4L1101.7 1999.9L1101.8 2002.4L1102 2004.9L1102.2 2007.4L1102.4 2009.9L1102.6 2012.4L1102.8 2014.9L1102.8 2015.9L1103.8 2021L1104.8 2023.8L1106.6 2025.5L1109.5 2026.3L1115.8 2026.8L1138.1 2027.7L1161 2028.7" fill="none" stroke="#d98243" stroke-width="4.3" stroke-linejoin="round" stroke-linecap="butt"/>
<path d="M939.9 2058.3L942.4 2057.9L944.8 2057.5L947.3 2057L949.7 2056.3L952.1 2055.6L954.5 2054.8L956.8 2053.9L959 2052.8L961.3 2051.7L963.4 2050.4L965.6 2049.1L967.6 2047.7L969.6 2046.2L971.5 2044.6L973.3 2042.9L975.1 2041.1L976.8 2039.3L978.4 2037.4L980 2035.4L981.5 2033.4L982.9 2031.4L984.3 2029.3L985.6 2027.2L986.9 2025L988.1 2022.8L989.2 2020.6L990.3 2018.3L991.4 2016.1L992.4 2013.8L993.4 2011.5L994.4 2009.2L995.3 2006.9L996.2 2004.6L997.1 2002.2L997.9 1999.9L998.8 1997.5L999.6 1995.1L1000.3 1992.8L1001.1 1990.4L1001.8 1988L1002.6 1985.6L1003.3 1983.2L1003.9 1980.8L1004.6 1978.4L1005.2 1975.9L1005.8 1973.5L1006.4 1971.1L1007 1968.7L1007.5 1966.2L1008.1 1963.8L1008.6 1961.3L1009.1 1958.9L1009.5 1956.4L1010 1954L1010.5 1951.5L1010.9 1949L1011.3 1946.6L1011.7 1944.1L1012.1 1941.6L1012.5 1939.2L1012.9 1936.7L1013.2 1934.2L1013.6 1931.8L1013.9 1929.3L1014.2 1926.8L1014.6 1924.3L1014.9 1921.8L1015.2 1919.4L1015.5 1916.9L1015.7 1914.4L1016 1911.9L1016.3 1909.4L1016.6 1906.9L1016.8 1904.4L1017.1 1902L1017.3 1899.5L1017.6 1897L1017.8 1894.5L1018 1892L1018.3 1889.5L1018.5 1887L1018.7 1884.5L1018.9 1882L1019.2 1879.5L1019.4 1877.1L1019.6 1874.6L1019.8 1872.1L1020 1869.6L1020.2 1867.1L1020.4 1864.6L1020.7 1862.1L1020.9 1859.6L1021.1 1857.1L1021.3 1854.6L1021.5 1852.1L1021.7 1849.7L1022 1847.2L1022.2 1844.7L1022.4 1842.2L1022.6 1839.7L1022.9 1837.2L1023.1 1834.7L1023.3 1832.2L1023.6 1829.7L1023.8 1827.2L1024.1 1824.8L1024.3 1822.3L1024.6 1819.8L1024.9 1817.3L1025.2 1814.8L1025.4 1812.3L1025.7 1809.8L1026 1807.4L1026.3 1804.9L1026.6 1802.4L1027 1799.9L1027.3 1797.4L1027.6 1795L1028 1792.5L1028.4 1790L1028.7 1787.5L1029.1 1785.1L1029.5 1782.6L1029.9 1780.1L1030.3 1777.7L1030.7 1775.2L1031.2 1772.7L1031.6 1770.3L1032.1 1767.8L1032.6 1765.4L1033.1 1762.9L1033.6 1760.5L1034.1 1758L1034.6 1755.6L1035.2 1753.1L1035.7 1750.7L1036.3 1748.3L1036.9 1745.8L1037.5 1743.4L1038.1 1741L1038.8 1738.6L1039.4 1736.2L1040.1 1733.8L1040.8 1731.4L1041.5 1729L1042.2 1726.6L1043 1724.2L1043.8 1721.8L1044.5 1719.4L1045.4 1717.1L1046.2 1714.7L1047.2 1712.4L1048.2 1710.2L1049.3 1707.9L1050.4 1705.7L1051.5 1703.4L1052.7 1701.2L1054 1699.1L1055.4 1697.1L1057 1695.2L1058.8 1693.4L1060.8 1691.9L1062.9 1690.7L1065.2 1689.8L1067.6 1689.3L1070.1 1689.3L1072.5 1689.7L1074.8 1690.6L1077 1691.7L1079 1693.1L1080.9 1694.8L1082.7 1696.5L1084.4 1698.4L1086 1700.3L1087.6 1702.2L1089.2 1704.1L1090.7 1706.1L1092 1708.2L1093.2 1710.4L1094.1 1712.7L1095 1715L1095.9 1717.4L1096.7 1719.7L1097.6 1722.1L1098.4 1724.4L1099.3 1726.8L1100.1 1729.1L1100.9 1731.5L1101.7 1733.9L1102.5 1736.3L1103.3 1738.6L1104.1 1741L1104.8 1743.4L1105.5 1745.8L1106.3 1748.2L1107 1750.6L1107.7 1753L1108.4 1755.4L1109 1757.8L1109.7 1760.2L1110.4 1762.6L1111 1765L1111.6 1767.4L1112.3 1769.9L1112.9 1772.3L1113.5 1774.7L1114 1777.2L1114.6 1779.6L1115.2 1782L1115.7 1784.5L1116.2 1786.9L1116.8 1789.4L1117.3 1791.8L1117.8 1794.3L1118.3 1796.7L1118.7 1799.2L1119.2 1801.6L1119.7 1804.1L1120.1 1806.5L1120.5 1809L1121 1811.5L1121.4 1813.9L1121.8 1816.4L1122.2 1818.9L1122.5 1821.3L1122.9 1823.8L1123.3 1826.3L1123.6 1828.8L1124 1831.2L1124.3 1833.7L1124.6 1836.2L1124.9 1838.7L1125.2 1841.2L1125.5 1843.6L1125.8 1846.1L1126 1848.6L1126.3 1851.1L1126.5 1853.6L1126.8 1856.1L1127 1858.6L1127.2 1861.1L1127.4 1863.6L1127.6 1866L1127.8 1868.5L1128 1871L1128.2 1873.5L1128.3 1876L1128.5 1878.5L1128.6 1881L1128.7 1883.5L1128.9 1886L1129 1888.5L1129.1 1891L1129.2 1893.5L1129.3 1896L1129.4 1898.5L1129.4 1901L1129.5 1903.5L1129.6 1906L1129.6 1908.5L1129.7 1911L1129.7 1913.5L1129.7 1916L1129.7 1918.5L1129.7 1921L1129.7 1923.5L1129.7 1926L1129.7 1928.5L1129.7 1931L1129.7 1933.5L1129.6 1936L1129.6 1938.5L1129.6 1940L1130.4 2050.5L1130.9 2055.4L1132.4 2058.2L1135.2 2059.7L1139 2060.2L1141.5 2060.2L1144 2060.3L1146.5 2060.4L1149 2060.5L1151.5 2060.5L1154 2060.6L1156.5 2060.7L1159 2060.7L1161.5 2060.8L1164 2060.9L1166.5 2061L1169 2061L1171.5 2061.1L1174 2061.2L1176.5 2061.3L1179 2061.3L1181.5 2061.4L1184 2061.5L1186.5 2061.6L1189 2061.6L1191.5 2061.7L1194 2061.8L1196.5 2061.9L1199 2061.9L1201.5 2062L1204 2062.1L1206.5 2062.2L1209 2062.2L1211.5 2062.3L1214 2062.4L1216.5 2062.5L1219 2062.5L1221.5 2062.6L1224 2062.7L1226.5 2062.8L1229 2062.8L1231.5 2062.9L1234 2063L1236.5 2063.1L1239 2063.1L1241.5 2063.2L1244 2063.3L1246.5 2063.3L1249 2063.4L1251.5 2063.5L1254 2063.6L1256.5 2063.6L1259 2063.7L1261.5 2063.8L1264 2063.9L1266.5 2063.9L1269 2064L1271.5 2064.1L1274 2064.1L1276.5 2064.2L1279 2064.3L1281.5 2064.4L1284 2064.4L1286.5 2064.5L1289 2064.6L1291.5 2064.6L1294 2064.7L1296.5 2064.8L1299 2064.9L1301.5 2064.9L1304 2065L1306.5 2065.1L1309 2065.1L1311.5 2065.2L1314 2065.3L1316.5 2065.4L1319 2065.4L1321.5 2065.5L1324 2065.6L1326.5 2065.6L1329 2065.7L1331.5 2065.8L1334 2065.9L1336.5 2065.9L1339 2066L1341.5 2066.1L1344 2066.1L1346.5 2066.2L1349 2066.3L1351.5 2066.3L1354 2066.4L1356.5 2066.5L1359 2066.5L1361.5 2066.6L1364 2066.7L1366.5 2066.7L1369 2066.8L1371.5 2066.9L1374 2066.9L1376.5 2067L1379 2067.1L1381.5 2067.1L1384 2067.2L1386.5 2067.3L1389 2067.3L1391.5 2067.4L1394 2067.5L1396.5 2067.5L1399 2067.6L1401.5 2067.7L1404 2067.7L1406.5 2067.8L1409 2067.9L1411.5 2067.9L1414 2068L1416.5 2068.1L1419 2068.1L1421.5 2068.2L1424 2068.2L1426.5 2068.3L1429 2068.4L1431.5 2068.4L1434 2068.5L1436.5 2068.6L1439 2068.6L1441.5 2068.7L1444 2068.7L1446.5 2068.8L1449 2068.9L1451.5 2068.9L1454 2069L1456.5 2069.1L1459 2069.1L1461.5 2069.2L1464 2069.2L1466.5 2069.3L1469 2069.4L1471.5 2069.4L1474 2069.5L1476.5 2069.5L1479 2069.6L1481.5 2069.6L1484 2069.7L1486.5 2069.8L1489 2069.8L1491.5 2069.9L1494 2069.9L1496.5 2070L1499 2070L1501.5 2070.1L1504 2070.2L1506.5 2070.2L1509 2070.3L1511.5 2070.3L1514 2070.4L1516.5 2070.4L1519 2070.5L1521.5 2070.5L1524 2070.6L1526.5 2070.6L1529 2070.7L1531.5 2070.8L1534 2070.8L1536.5 2070.9L1539 2070.9L1541.5 2071L1544 2071L1546.5 2071.1L1549 2071.1L1551.5 2071.2L1554 2071.2L1556.5 2071.3L1559 2071.3L1561.5 2071.4L1564 2071.4L1566.5 2071.5L1569 2071.5L1571.5 2071.6L1574 2071.6L1576.5 2071.7L1579 2071.7L1581.5 2071.7L1584 2071.8L1586.5 2071.8L1589 2071.9L1591.5 2071.9L1594 2072L1596.5 2072L1599 2072.1L1601.5 2072.1L1604 2072.2L1606.5 2072.2L1609 2072.2L1611.5 2072.3L1614 2072.3L1616.5 2072.4L1619 2072.4L1621.5 2072.5L1624 2072.5L1626.5 2072.6L1629 2072.6L1631.5 2072.6L1634 2072.7L1636.5 2072.7L1639 2072.8L1641.5 2072.8L1644 2072.9L1646.5 2072.9L1649 2072.9L1651.5 2073L1654 2073L1656.5 2073.1L1659 2073.1L1661.5 2073.1L1664 2073.2L1666.5 2073.2L1669 2073.3L1671.6 2073.3L1674.1 2073.4L1676.6 2073.4L1679.1 2073.4L1681.6 2073.5L1684.1 2073.5L1686.6 2073.6L1689.1 2073.6L1691.6 2073.6L1694.1 2073.7L1696.6 2073.7L1699.1 2073.8L1701.6 2073.8L1704.1 2073.8L1706.6 2073.9L1709.1 2073.9L1711.6 2074L1714.1 2074L1716.6 2074.1L1719.1 2074.1L1721.6 2074.1L1724.1 2074.2L1726.6 2074.2L1729.1 2074.3L1731.6 2074.3L1734.1 2074.3L1736.6 2074.4L1739.1 2074.4L1741.6 2074.5L1744.1 2074.5L1746.6 2074.6L1749.1 2074.6L1751.6 2074.6L1754.1 2074.7L1756.6 2074.7L1759.1 2074.8L1761.6 2074.8L1764.1 2074.9L1766.6 2074.9L1769.1 2074.9L1771.6 2075L1774.1 2075L1776.6 2075.1L1779.1 2075.1L1781.6 2075.2L1784.1 2075.2L1786.6 2075.3L1789.1 2075.3L1791.6 2075.3L1794.1 2075.4L1796.6 2075.4L1799.1 2075.5L1801.6 2075.5L1804.1 2075.6L1806.6 2075.6L1809.1 2075.7L1811.6 2075.7L1814.1 2075.8L1816.6 2075.8L1819.1 2075.9L1821.6 2075.9L1824.1 2076L1826.6 2076L1829.1 2076.1L1831.6 2076.1L1834.1 2076.2L1836.6 2076.2L1839.1 2076.3L1841.6 2076.3L1844.1 2076.4L1846.6 2076.4L1849.1 2076.5L1851.6 2076.5L1854.1 2076.6L1856.6 2076.6L1859.1 2076.7L1861.6 2076.7L1864.1 2076.8L1866.6 2076.9L1869.1 2076.9L1871.6 2077L1874.1 2077L1876.6 2077.1L1879.1 2077.1L1881.6 2077.2L1884.1 2077.3L1886.6 2077.3L1889.1 2077.4L1891.6 2077.4L1894.1 2077.5L1896.6 2077.6L1899.1 2077.6L1901.6 2077.7L1904.1 2077.7L1906.6 2077.8L1909.1 2077.9L1911.6 2077.9L1914.1 2078L1916.6 2078.1L1919.1 2078.1L1921.6 2078.2L1924.1 2078.3L1926.6 2078.3L1929.1 2078.4L1931.6 2078.5L1934.1 2078.5L1936.6 2078.6L1939.1 2078.7L1941.6 2078.7L1944.1 2078.8L1946.6 2078.9L1949.1 2079L1951.6 2079L1954.1 2079.1L1956.6 2079.2L1959.1 2079.2L1961.6 2079.3L1963.6 2079.4" fill="none" stroke="#000" stroke-width="6.2" stroke-linejoin="round" stroke-linecap="butt"/>
<path d="M940 2065L942.4 2064.4L944.9 2063.8L947.3 2063.3L949.8 2062.9L952.2 2062.5L954.7 2062.2L957.2 2061.9L959.7 2061.6L962.2 2061.2L964.6 2060.9L967.1 2060.4L969.5 2059.9L972 2059.4L974.4 2058.7L976.8 2057.9L979.1 2057L981.4 2056L983.6 2054.9L985.7 2053.6L987.8 2052.2L989.8 2050.8L991.8 2049.2L993.7 2047.5L995.5 2045.8L997.2 2044L998.9 2042.2L1000.5 2040.3L1002 2038.3L1003.5 2036.3L1005 2034.2L1006.4 2032.2L1007.7 2030.1L1009 2027.9L1010.2 2025.7L1011.4 2023.5L1012.5 2021.3L1013.6 2019.1L1014.7 2016.8L1015.7 2014.5L1016.7 2012.2L1017.6 2009.9L1018.5 2007.5L1019.3 2005.2L1020.1 2002.8L1020.9 2000.4L1021.6 1998.1L1022.3 1995.7L1023 1993.2L1023.6 1990.8L1024.3 1988.4L1024.9 1986L1025.4 1983.5L1026 1981.1L1026.5 1978.7L1027 1976.2L1027.5 1973.8L1028 1971.3L1028.4 1968.8L1028.9 1966.4L1029.3 1963.9L1029.7 1961.5L1030.2 1959L1030.6 1956.5L1031 1954.1L1031.4 1951.6L1031.7 1949.1L1032.1 1946.7L1032.5 1944.2L1032.9 1941.7L1033.2 1939.2L1033.6 1936.8L1034 1934.3L1034.3 1931.8L1034.6 1929.3L1035 1926.9L1035.3 1924.4L1035.7 1921.9L1036 1919.4L1036.3 1916.9L1036.7 1914.5L1037 1912L1037.3 1909.5L1037.6 1907L1038 1904.5L1038.3 1902.1L1038.6 1899.6L1038.9 1897.1L1039.2 1894.6L1039.5 1892.1L1039.9 1889.7L1040.2 1887.2L1040.5 1884.7L1040.8 1882.2L1041.1 1879.7L1041.5 1877.3L1041.8 1874.8L1042.1 1872.3L1042.4 1869.8L1042.8 1867.4L1043.1 1864.9L1043.4 1862.4L1043.8 1859.9L1044.1 1857.4L1044.4 1855L1044.8 1852.5L1045.2 1850L1045.5 1847.5L1045.9 1845.1L1046.2 1842.6L1046.6 1840.1L1047 1837.6L1047.4 1835.2L1047.8 1832.7L1048.2 1830.2L1048.6 1827.8L1049 1825.3L1049.4 1822.8L1049.8 1820.4L1050.3 1817.9L1050.7 1815.5L1051.2 1813L1051.6 1810.5L1052.1 1808.1L1052.6 1805.6L1053 1803.2L1053.5 1800.7L1054 1798.3L1054.6 1795.8L1055.1 1793.4L1055.6 1790.9L1056.2 1788.5L1056.7 1786.1L1057.3 1783.6L1057.9 1781.2L1058.5 1778.8L1059.1 1776.3L1059.7 1773.9L1060.3 1771.5L1060.9 1769.1L1061.6 1766.7L1062.3 1764.3L1062.9 1761.8L1063.6 1759.4L1064.3 1757L1065 1754.6L1065.8 1752.3L1066.6 1749.9L1067.4 1747.5L1068.3 1745.2L1069.2 1742.9L1070.1 1740.5L1071.1 1738.3L1072.2 1736L1073.5 1733.9L1075 1731.9L1076.8 1730.2L1078.8 1728.8L1081 1727.7L1083.4 1727.1L1085.8 1726.8L1088.3 1727.1L1090.6 1727.8L1092.8 1728.9L1094.8 1730.4L1096.4 1732.2L1097.8 1734.2L1099 1736.4L1099.9 1738.7L1100.8 1741.1L1101.6 1743.5L1102.4 1745.8L1103.2 1748.2L1104.1 1750.5L1105.1 1752.8L1106 1755.1L1106.8 1757.5L1107.6 1759.9L1108.4 1762.2L1109.1 1764.6L1109.9 1767L1110.6 1769.4L1111.3 1771.8L1112 1774.2L1112.6 1776.6L1113.2 1779.1L1113.8 1781.5L1114.4 1783.9L1115 1786.3L1115.6 1788.8L1116.1 1791.2L1116.6 1793.7L1117.1 1796.1L1117.6 1798.6L1118 1801L1118.5 1803.5L1118.9 1806L1119.3 1808.4L1119.7 1810.9L1120.1 1813.4L1120.5 1815.8L1120.8 1818.3L1121.1 1820.8L1121.5 1823.3L1121.8 1825.8L1122.1 1828.2L1122.3 1830.7L1122.6 1833.2L1122.9 1835.7L1123.1 1838.2L1123.3 1840.7L1123.5 1843.2L1123.8 1845.7L1124 1848.1L1124.1 1850.6L1124.3 1853.1L1124.5 1855.6L1124.6 1858.1L1124.8 1860.6L1124.9 1863.1L1125 1865.6L1125.2 1868.1L1125.3 1870.6L1125.4 1873.1L1125.5 1875.6L1125.6 1878.1L1125.7 1880.6L1125.8 1883.1L1125.8 1885.6L1125.9 1888.1L1126 1890.6L1126 1893.1L1126.1 1895.6L1126.1 1898.1L1126.2 1900.6L1126.2 1903.1L1126.3 1905.6L1126.3 1908.1L1126.4 1910.6L1126.4 1911.6L1126.4 2052L1126.9 2056.8L1128.4 2059.6L1131.2 2061L1135 2061.4L1137.5 2061.4L1140 2061.5L1142.5 2061.6L1145 2061.6L1147.5 2061.7L1150 2061.8L1152.5 2061.9L1155 2061.9L1157.5 2062L1160 2062.1L1162.5 2062.1L1165 2062.2L1167.5 2062.3L1170 2062.4L1172.5 2062.4L1175 2062.5L1177.5 2062.6L1180 2062.7L1182.5 2062.7L1185 2062.8L1187.5 2062.9L1190 2062.9L1192.5 2063L1195 2063.1L1197.5 2063.2L1200 2063.2L1202.5 2063.3L1205 2063.4L1207.5 2063.4L1210 2063.5L1212.5 2063.6L1215 2063.6L1217.5 2063.7L1220 2063.8L1222.5 2063.9L1225 2063.9L1227.5 2064L1230 2064.1L1232.5 2064.1L1235 2064.2L1237.5 2064.3L1240 2064.3L1242.5 2064.4L1245 2064.5L1247.5 2064.5L1250 2064.6L1252.5 2064.7L1255 2064.7L1257.5 2064.8L1260 2064.9L1262.5 2064.9L1265 2065L1267.5 2065.1L1270 2065.1L1272.5 2065.2L1275 2065.3L1277.5 2065.3L1280 2065.4L1282.5 2065.5L1285 2065.5L1287.5 2065.6L1290 2065.7L1292.5 2065.7L1295 2065.8L1297.5 2065.9L1300 2065.9L1302.5 2066L1305 2066.1L1307.5 2066.1L1310 2066.2L1312.5 2066.2L1315 2066.3L1317.5 2066.4L1320 2066.4L1322.5 2066.5L1325 2066.6L1327.5 2066.6L1330 2066.7L1332.5 2066.8L1335 2066.8L1337.5 2066.9L1340 2066.9L1342.5 2067L1345 2067.1L1347.5 2067.1L1350 2067.2L1352.5 2067.2L1355 2067.3L1357.5 2067.4L1360 2067.4L1362.5 2067.5L1365 2067.5L1367.5 2067.6L1370 2067.7L1372.5 2067.7L1375 2067.8L1377.5 2067.8L1380 2067.9L1382.5 2068L1385 2068L1387.5 2068.1L1390 2068.1L1392.5 2068.2L1395 2068.2L1397.5 2068.3L1400 2068.4L1402.5 2068.4L1405 2068.5L1407.5 2068.5L1410 2068.6L1412.5 2068.6L1415 2068.7L1417.5 2068.8L1420 2068.8L1422.5 2068.9L1425 2068.9L1427.5 2069L1430 2069L1432.5 2069.1L1435 2069.1L1437.5 2069.2L1440 2069.2L1442.5 2069.3L1445 2069.4L1447.5 2069.4L1450 2069.5L1452.5 2069.5L1455 2069.6L1457.5 2069.6L1460 2069.7L1462.5 2069.7L1465 2069.8L1467.5 2069.8L1470 2069.9L1472.5 2069.9L1475 2070L1477.5 2070L1480 2070.1L1482.5 2070.1L1485 2070.2L1487.5 2070.2L1490 2070.3L1492.5 2070.3L1495 2070.4L1497.5 2070.4L1500 2070.5L1502.5 2070.5L1505 2070.6L1507.5 2070.6L1510 2070.7L1512.5 2070.7L1515 2070.8L1517.5 2070.8L1520 2070.9L1522.5 2070.9L1525 2071L1527.5 2071L1530 2071L1532.5 2071.1L1535 2071.1L1537.5 2071.2L1540 2071.2L1542.5 2071.3L1545 2071.3L1547.5 2071.4L1550 2071.4L1552.5 2071.5L1555 2071.5L1557.5 2071.5L1560 2071.6L1562.5 2071.6L1565 2071.7L1567.5 2071.7L1570 2071.8L1572.5 2071.8L1575 2071.8L1577.5 2071.9L1580 2071.9L1582.5 2072L1585 2072L1587.5 2072L1590 2072.1L1592.5 2072.1L1595 2072.2L1597.5 2072.2L1600 2072.3L1602.5 2072.3L1605 2072.3L1607.5 2072.4L1610 2072.4L1612.5 2072.5L1615 2072.5L1617.5 2072.5L1620 2072.6L1622.5 2072.6L1625 2072.7L1627.5 2072.7L1630 2072.7L1632.5 2072.8L1635.1 2072.8L1637.6 2072.8L1640.1 2072.9L1642.6 2072.9L1645.1 2073L1647.6 2073L1650.1 2073L1652.6 2073.1L1655.1 2073.1L1657.6 2073.2L1660.1 2073.2L1662.6 2073.2L1665.1 2073.3L1667.6 2073.3L1670.1 2073.4L1672.6 2073.4L1675.1 2073.4L1677.6 2073.5L1680.1 2073.5L1682.6 2073.5L1685.1 2073.6L1687.6 2073.6L1690.1 2073.7L1692.6 2073.7L1695.1 2073.7L1697.6 2073.8L1700.1 2073.8L1702.6 2073.9L1705.1 2073.9L1707.6 2073.9L1710.1 2074L1712.6 2074L1715.1 2074.1L1717.6 2074.1L1720.1 2074.1L1722.6 2074.2L1725.1 2074.2L1727.6 2074.3L1730.1 2074.3L1732.6 2074.3L1735.1 2074.4L1737.6 2074.4L1740.1 2074.5L1742.6 2074.5L1745.1 2074.5L1747.6 2074.6L1750.1 2074.6L1752.6 2074.7L1755.1 2074.7L1757.6 2074.7L1760.1 2074.8L1762.6 2074.8L1765.1 2074.9L1767.6 2074.9L1770.1 2075L1772.6 2075L1775.1 2075L1777.6 2075.1L1780.1 2075.1L1782.6 2075.2L1785.1 2075.2L1787.6 2075.3L1790.1 2075.3L1792.6 2075.4L1795.1 2075.4L1797.6 2075.4L1800.1 2075.5L1802.6 2075.5L1805.1 2075.6L1807.6 2075.6L1810.1 2075.7L1812.6 2075.7L1815.1 2075.8L1817.6 2075.8L1820.1 2075.9L1822.6 2075.9L1825.1 2076L1827.6 2076L1830.1 2076.1L1832.6 2076.1L1835.1 2076.2L1837.6 2076.2L1840.1 2076.3L1842.6 2076.3L1845.1 2076.4L1847.6 2076.4L1850.1 2076.5L1852.6 2076.5L1855.1 2076.6L1857.6 2076.6L1860.1 2076.7L1862.6 2076.8L1865.1 2076.8L1867.6 2076.9L1870.1 2076.9L1872.6 2077L1875.1 2077L1877.6 2077.1L1880.1 2077.1L1882.6 2077.2L1885.1 2077.3L1887.6 2077.3L1890.1 2077.4L1892.6 2077.4L1895.1 2077.5L1897.6 2077.6L1900.1 2077.6L1902.6 2077.7L1905.1 2077.8L1907.6 2077.8L1910.1 2077.9L1912.6 2077.9L1915.1 2078L1917.6 2078.1L1920.1 2078.1L1922.6 2078.2L1925.1 2078.3L1927.6 2078.3L1930.1 2078.4L1932.6 2078.5L1935.1 2078.6L1937.6 2078.6L1940.1 2078.7L1942.6 2078.8L1945.1 2078.8L1947.6 2078.9L1950.1 2079L1952.6 2079.1L1955.1 2079.1L1957.6 2079.2L1960.1 2079.3L1962.6 2079.4L1963.6 2079.4" fill="none" stroke="#4470b8" stroke-width="5.8" stroke-linejoin="round" stroke-linecap="butt"/>
<text id="by0" class="u" x="204.5" y="1474.7" text-anchor="end" textLength="110.88" lengthAdjust="spacingAndGlyphs">3000</text>
<text id="by1" class="u" x="204.5" y="1578.2" text-anchor="end" textLength="110.88" lengthAdjust="spacingAndGlyphs">2500</text>
<text id="by2" class="u" x="204.5" y="1681.6" text-anchor="end" textLength="110.88" lengthAdjust="spacingAndGlyphs">2000</text>
<text id="by3" class="u" x="204.5" y="1785.1" text-anchor="end" textLength="110.88" lengthAdjust="spacingAndGlyphs">1500</text>
<text id="by4" class="u" x="204.5" y="1888.6" text-anchor="end" textLength="110.88" lengthAdjust="spacingAndGlyphs">1000</text>
<text id="by5" class="u" x="201.5" y="1992.0" text-anchor="end" textLength="83.16" lengthAdjust="spacingAndGlyphs">500</text>
<text id="by6" class="u" x="201.5" y="2095.5" text-anchor="end" textLength="27.72" lengthAdjust="spacingAndGlyphs">0</text>
<text id="bx0" class="u" x="246.1" y="2158.5" text-anchor="middle" textLength="80.22" lengthAdjust="spacingAndGlyphs">220</text>
<text id="bx1" class="u" x="460.3" y="2158.5" text-anchor="middle" textLength="80.22" lengthAdjust="spacingAndGlyphs">240</text>
<text id="bx2" class="u" x="674.5" y="2158.5" text-anchor="middle" textLength="80.22" lengthAdjust="spacingAndGlyphs">260</text>
<text id="bx3" class="u" x="888.6" y="2158.5" text-anchor="middle" textLength="80.22" lengthAdjust="spacingAndGlyphs">280</text>
<text id="bx4" class="u" x="1102.8" y="2158.5" text-anchor="middle" textLength="80.22" lengthAdjust="spacingAndGlyphs">300</text>
<text id="bx5" class="u" x="1317.0" y="2158.5" text-anchor="middle" textLength="80.22" lengthAdjust="spacingAndGlyphs">320</text>
<text id="bx6" class="u" x="1531.2" y="2158.5" text-anchor="middle" textLength="80.22" lengthAdjust="spacingAndGlyphs">340</text>
<text id="bx7" class="u" x="1745.4" y="2158.5" text-anchor="middle" textLength="80.22" lengthAdjust="spacingAndGlyphs">360</text>
<text id="bx8" class="u" x="1959.5" y="2158.5" text-anchor="middle" textLength="80.22" lengthAdjust="spacingAndGlyphs">380</text>
<text id="bxt" class="u" x="967.0" y="2214.4" text-anchor="middle" textLength="353.84" lengthAdjust="spacingAndGlyphs">temperature (°C)</text>
<text id="byt" class="u" transform="translate(72.8 1820.5) rotate(-90)" text-anchor="middle" textLength="362.12" lengthAdjust="spacingAndGlyphs">heat flow (W/kg)</text>
<g fill="none">
<line x1="339.3" y1="1516.3" x2="429.6" y2="1516.3" stroke="#d98243" stroke-width="5.6"/>
<line x1="339.3" y1="1591.3" x2="429.6" y2="1591.3" stroke="#000" stroke-width="6.4"/>
<line x1="339.3" y1="1667.6" x2="429.6" y2="1667.6" stroke="#4470b8" stroke-width="5.4"/>
</g>
<text id="l1" class="u" x="436.6" y="1531.9" textLength="135.95" lengthAdjust="spacingAndGlyphs">NaNO</text>
<text id="l1s" class="sans" x="571.9" y="1542.5" textLength="23.45" lengthAdjust="spacingAndGlyphs" style="font-size:49.0px;fill:#111">3</text>
<text id="l2" class="u" x="436.6" y="1606.4" textLength="135.95" lengthAdjust="spacingAndGlyphs">NaNO</text>
<text id="l2s" class="sans" x="578.3" y="1617.0" textLength="23.45" lengthAdjust="spacingAndGlyphs" style="font-size:49.0px;fill:#111">3</text>
<text id="l3" class="u" x="436.6" y="1681.6" textLength="304.33" lengthAdjust="spacingAndGlyphs">microcapsules</text>
</g>
<g id="annot" style="filter:blur(0.3px)">
<text id="l1m" class="sans" x="615.0" y="1530.6" textLength="265.95" lengthAdjust="spacingAndGlyphs" style="font-size:48.6px;font-weight:bold;fill:#000">Mohammad</text>
</g>
<g id="captions" style="filter:blur(0.3px)">
<text id="capa" class="cap"><tspan x="982.0" y="1416.4" textLength="17.7" lengthAdjust="spacingAndGlyphs">(</tspan><tspan class="b" x="1001.8" y="1414.7">A</tspan><tspan x="1048.3" y="1416.4" textLength="17.7" lengthAdjust="spacingAndGlyphs">)</tspan></text>
<text id="capb" class="cap"><tspan x="986.4" y="2294.8" textLength="17.7" lengthAdjust="spacingAndGlyphs">(</tspan><tspan class="b" x="1009.0" y="2293.1" textLength="35.4" lengthAdjust="spacingAndGlyphs">B</tspan><tspan x="1045.8" y="2294.8" textLength="17.7" lengthAdjust="spacingAndGlyphs">)</tspan></text>
</g>
</svg></body></html>
